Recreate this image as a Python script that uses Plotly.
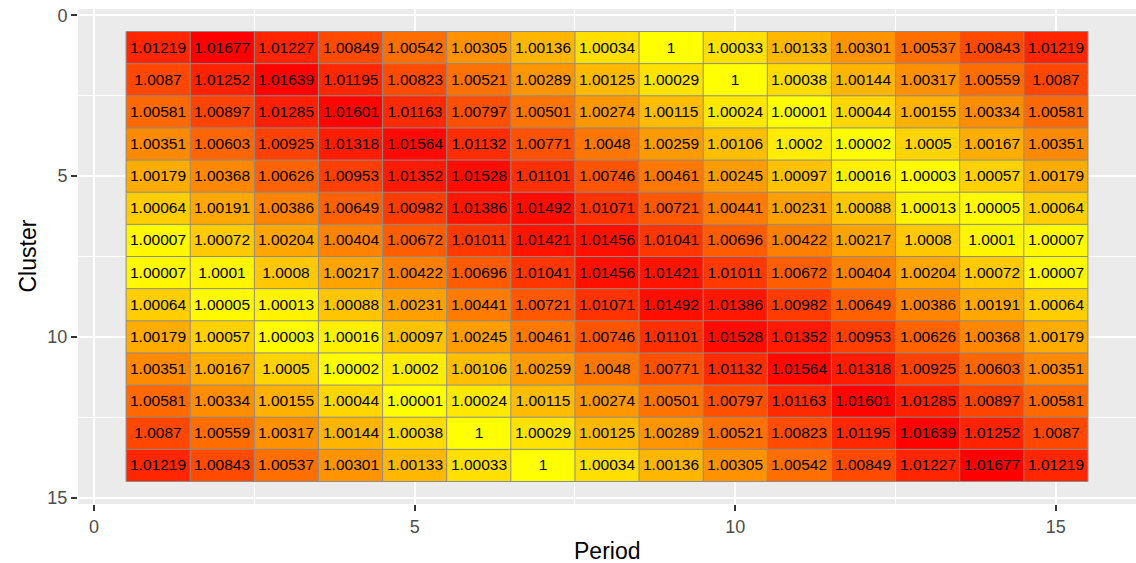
import plotly.graph_objects as go

periods = list(range(1, 16))
clusters = list(range(1, 15))

row01 = [1.01219, 1.01677, 1.01227, 1.00849, 1.00542, 1.00305, 1.00136, 1.00034, 1, 1.00033, 1.00133, 1.00301, 1.00537, 1.00843, 1.01219]
row02 = [1.0087, 1.01252, 1.01639, 1.01195, 1.00823, 1.00521, 1.00289, 1.00125, 1.00029, 1, 1.00038, 1.00144, 1.00317, 1.00559, 1.0087]
row03 = [1.00581, 1.00897, 1.01285, 1.01601, 1.01163, 1.00797, 1.00501, 1.00274, 1.00115, 1.00024, 1.00001, 1.00044, 1.00155, 1.00334, 1.00581]
row04 = [1.00351, 1.00603, 1.00925, 1.01318, 1.01564, 1.01132, 1.00771, 1.0048, 1.00259, 1.00106, 1.0002, 1.00002, 1.0005, 1.00167, 1.00351]
row05 = [1.00179, 1.00368, 1.00626, 1.00953, 1.01352, 1.01528, 1.01101, 1.00746, 1.00461, 1.00245, 1.00097, 1.00016, 1.00003, 1.00057, 1.00179]
row06 = [1.00064, 1.00191, 1.00386, 1.00649, 1.00982, 1.01386, 1.01492, 1.01071, 1.00721, 1.00441, 1.00231, 1.00088, 1.00013, 1.00005, 1.00064]
row07 = [1.00007, 1.00072, 1.00204, 1.00404, 1.00672, 1.01011, 1.01421, 1.01456, 1.01041, 1.00696, 1.00422, 1.00217, 1.0008, 1.0001, 1.00007]
row08 = [1.00007, 1.0001, 1.0008, 1.00217, 1.00422, 1.00696, 1.01041, 1.01456, 1.01421, 1.01011, 1.00672, 1.00404, 1.00204, 1.00072, 1.00007]
row09 = [1.00064, 1.00005, 1.00013, 1.00088, 1.00231, 1.00441, 1.00721, 1.01071, 1.01492, 1.01386, 1.00982, 1.00649, 1.00386, 1.00191, 1.00064]
row10 = [1.00179, 1.00057, 1.00003, 1.00016, 1.00097, 1.00245, 1.00461, 1.00746, 1.01101, 1.01528, 1.01352, 1.00953, 1.00626, 1.00368, 1.00179]
row11 = [1.00351, 1.00167, 1.0005, 1.00002, 1.0002, 1.00106, 1.00259, 1.0048, 1.00771, 1.01132, 1.01564, 1.01318, 1.00925, 1.00603, 1.00351]
row12 = [1.00581, 1.00334, 1.00155, 1.00044, 1.00001, 1.00024, 1.00115, 1.00274, 1.00501, 1.00797, 1.01163, 1.01601, 1.01285, 1.00897, 1.00581]
row13 = [1.0087, 1.00559, 1.00317, 1.00144, 1.00038, 1, 1.00029, 1.00125, 1.00289, 1.00521, 1.00823, 1.01195, 1.01639, 1.01252, 1.0087]
row14 = [1.01219, 1.00843, 1.00537, 1.00301, 1.00133, 1.00033, 1, 1.00034, 1.00136, 1.00305, 1.00542, 1.00849, 1.01227, 1.01677, 1.01219]

z = [row01, row02, row03, row04, row05, row06, row07, row08, row09, row10, row11, row12, row13, row14]
text = [[f"{v:g}" for v in r] for r in z]

xticks = [0, 5, 10, 15]
yticks = [0, 5, 10, 15]

# yellow -> red colour scale (sqrt-like progression, as in the reference)
n = 40
colorscale = []
for i in range(n + 1):
    t = i / n
    g = round(255 * (1 - t ** 0.5))
    colorscale.append([t, f"rgb(255,{g},0)"])

zmin = min(min(r) for r in z)
zmax = max(max(r) for r in z)

FONT = "Liberation Sans, Arial, sans-serif"

fig = go.Figure()
fig.add_trace(go.Heatmap(
    x=periods, y=clusters, z=z, text=text, texttemplate="%{text}",
    textfont=dict(size=15.5, color="black", family=FONT),
    colorscale=colorscale, zmin=zmin, zmax=zmax, showscale=False, hoverinfo="skip",
))

# tile borders
gx, gy = [], []
nx, ny = len(periods), len(clusters)
for i in range(nx + 1):
    gx += [periods[0] - 0.5 + i, periods[0] - 0.5 + i, None]
    gy += [clusters[0] - 0.5, clusters[-1] + 0.5, None]
for j in range(ny + 1):
    gx += [periods[0] - 0.5, periods[-1] + 0.5, None]
    gy += [clusters[0] - 0.5 + j, clusters[0] - 0.5 + j, None]
fig.add_trace(go.Scatter(x=gx, y=gy, mode="lines", line=dict(color="#8c8c8c", width=1),
                         hoverinfo="skip", showlegend=False))

axis_common = dict(
    ticks="outside", ticklen=6, tickwidth=2, tickcolor="#333333",
    tickfont=dict(size=18, color="#4D4D4D", family=FONT),
    showgrid=True, gridcolor="white", gridwidth=2,
    zeroline=False, showline=False, automargin=False,
    minor=dict(dtick=2.5, showgrid=True, gridcolor="white", gridwidth=1, ticks=""),
)

fig.update_layout(
    width=1136, height=563,
    margin=dict(l=78, r=0, t=9, b=59),
    paper_bgcolor="white", plot_bgcolor="#EBEBEB",
    font=dict(family=FONT),
    showlegend=False,
    xaxis=dict(range=[-0.25, 16.25], tickvals=xticks, ticktext=[str(v) for v in xticks],
               **axis_common),
    yaxis=dict(range=[15.2, -0.2], tickvals=yticks, ticktext=[str(v) for v in yticks],
               **axis_common),
    annotations=[
        dict(text="Period", xref="paper", yref="paper", x=0.5, y=0, yshift=-47,
             xanchor="center", yanchor="middle", showarrow=False,
             font=dict(size=23, color="black", family=FONT)),
        dict(text="Cluster", xref="paper", yref="paper", x=0, y=0.5, xshift=-51,
             xanchor="center", yanchor="middle", textangle=-90, showarrow=False,
             font=dict(size=23, color="black", family=FONT)),
    ],
)

fig.write_html(
    "out.html",
    config={"displayModeBar": False},
    post_script="document.documentElement.style.margin='0';document.body.style.margin='0';"
                "document.body.style.overflow='hidden';",
)
